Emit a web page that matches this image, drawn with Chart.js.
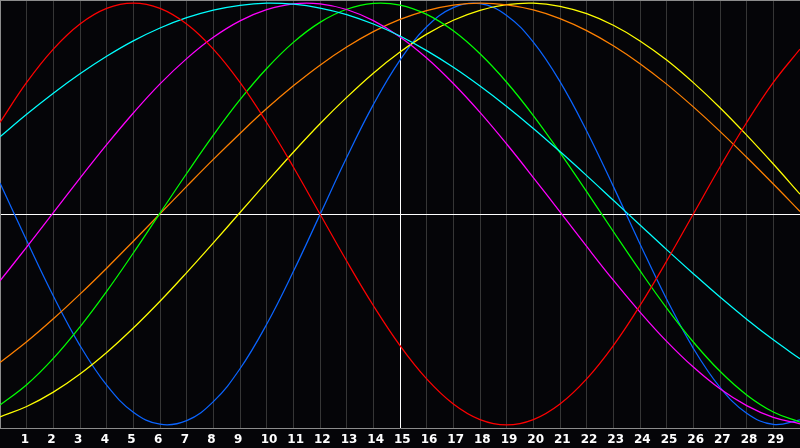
<!DOCTYPE html>
<html>
<head>
<meta charset="utf-8">
<script src="https://cdn.jsdelivr.net/npm/chart.js@4"></script>
<style>
  html, body { margin: 0; padding: 0; background: #050508; }
  #chart { display: block; background: #050508; }
</style>
</head>
<body>
<canvas id="chart" width="800" height="448"></canvas>
<script>
// x positions of the samples and the axis labels
const xs = [0, 1, 2, 3, 4, 5, 6, 7, 8, 9, 10, 11, 12, 13, 14, 15, 16, 17, 18, 19, 20, 21, 22, 23, 24, 25, 26, 27, 28, 29, 30];
const tickLabels = ["1", "2", "3", "4", "5", "6", "7", "8", "9", "10", "11", "12", "13", "14", "15", "16", "17", "18", "19", "20", "21", "22", "23", "24", "25", "26", "27", "28", "29"];

// curve values, one per x position
const redValues = [0.434, 0.624, 0.782, 0.901, 0.975, 1.0, 0.975, 0.901, 0.782, 0.624, 0.434, 0.223, 0.0, -0.223, -0.434, -0.624, -0.782, -0.901, -0.975, -1.0, -0.975, -0.901, -0.782, -0.624, -0.434, -0.223, 0.0, 0.223, 0.434, 0.624, 0.782];
const cyanValues = [0.366, 0.473, 0.573, 0.665, 0.748, 0.821, 0.882, 0.931, 0.967, 0.990, 1.0, 0.995, 0.977, 0.946, 0.901, 0.844, 0.775, 0.696, 0.607, 0.510, 0.406, 0.296, 0.182, 0.065, -0.052, -0.169, -0.283, -0.394, -0.499, -0.597, -0.687];
const magentaValues = [-0.317, -0.157, 0.007, 0.170, 0.329, 0.479, 0.617, 0.737, 0.838, 0.916, 0.969, 0.997, 0.997, 0.970, 0.917, 0.840, 0.740, 0.619, 0.482, 0.332, 0.173, 0.010, -0.154, -0.314, -0.465, -0.604, -0.726, -0.829, -0.909, -0.965, -0.995];
const greenValues = [-0.906, -0.810, -0.685, -0.535, -0.367, -0.185, 0.004, 0.192, 0.374, 0.542, 0.690, 0.814, 0.909, 0.971, 0.999, 0.991, 0.947, 0.869, 0.760, 0.625, 0.467, 0.291, 0.106, -0.083, -0.269, -0.446, -0.607, -0.746, -0.858, -0.939, -0.987];
const orangeValues = [-0.704, -0.606, -0.497, -0.380, -0.257, -0.129, 0.001, 0.131, 0.259, 0.382, 0.500, 0.608, 0.706, 0.792, 0.865, 0.923, 0.965, 0.991, 1.0, 0.992, 0.968, 0.927, 0.870, 0.798, 0.713, 0.616, 0.508, 0.392, 0.269, 0.142, 0.012];
const yellowValues = [-0.962, -0.913, -0.845, -0.759, -0.657, -0.541, -0.414, -0.278, -0.137, 0.007, 0.151, 0.293, 0.428, 0.553, 0.668, 0.768, 0.853, 0.919, 0.966, 0.993, 1.0, 0.985, 0.950, 0.895, 0.821, 0.730, 0.623, 0.504, 0.374, 0.237, 0.094];
const blueValues = [0.147, -0.126, -0.389, -0.624, -0.812, -0.940, -0.997, -0.980, -0.890, -0.734, -0.523, -0.273, -0.003, 0.268, 0.519, 0.730, 0.888, 0.979, 0.998, 0.942, 0.815, 0.628, 0.394, 0.131, -0.142, -0.404, -0.637, -0.822, -0.945, -0.998, -0.977];

const yMin = -1.015;
const yMax = 1.015;

function toPoints(values) {
  return values.map((y, i) => ({ x: xs[i], y: y }));
}

function curve(values, color) {
  return {
    data: toPoints(values),
    borderColor: color,
    borderWidth: 1.25,
    pointRadius: 0,
    tension: 0.4,
    fill: false,
  };
}

const ctx = document.getElementById("chart").getContext("2d");

new Chart(ctx, {
  type: "line",
  data: {
    datasets: [
      curve(redValues, "#ff0000"),
      curve(cyanValues, "#00ffff"),
      curve(magentaValues, "#ff00ff"),
      curve(greenValues, "#00ff00"),
      curve(orangeValues, "#ff8000"),
      curve(yellowValues, "#ffff00"),
      curve(blueValues, "#0a64ff"),
    ],
  },
  options: {
    responsive: false,
    animation: false,
    devicePixelRatio: 1,
    layout: { padding: 0 },
    plugins: {
      legend: { display: false },
      tooltip: { enabled: false },
    },
    scales: {
      x: {
        type: "linear",
        min: 0,
        max: 30,
        afterBuildTicks: (scale) => {
          scale.ticks = xs.map((v) => ({ value: v }));
        },
        afterFit: (scale) => {
          scale.height = 20;
          scale.paddingLeft = 0;
          scale.paddingRight = 0;
        },
        grid: {
          drawTicks: false,
          tickLength: 0,
          lineWidth: 1,
          color: (c) => {
            const v = c.tick ? c.tick.value : null;
            if (v === 15) return "#ffffff";
            if (v === 0 || v === 30) return "rgba(0,0,0,0)";
            return "#363636";
          },
        },
        border: { display: true, color: "#8c8c8c", width: 1 },
        ticks: {
          autoSkip: false,
          maxRotation: 0,
          minRotation: 0,
          align: "start",
          labelOffset: -6,
          padding: 5,
          color: "#ffffff",
          font: { family: "DejaVu Sans", size: 12, weight: "bold" },
          callback: (value) => {
            const label = tickLabels.find((t) => Number(t) === value);
            return label === undefined ? "" : label;
          },
        },
      },
      y: {
        type: "linear",
        min: yMin,
        max: yMax,
        afterBuildTicks: (scale) => {
          scale.ticks = [{ value: yMin }, { value: 0 }, { value: yMax }];
        },
        afterFit: (scale) => {
          scale.width = 0;
        },
        grid: {
          drawTicks: false,
          tickLength: 0,
          lineWidth: 1,
          color: (c) => {
            const v = c.tick ? c.tick.value : null;
            if (v === 0) return "#ffffff";
            if (v === yMax) return "#8c8c8c";
            return "rgba(0,0,0,0)";
          },
        },
        border: { display: true, color: "#8c8c8c", width: 1 },
        ticks: { display: false },
      },
    },
  },
});
</script>
</body>
</html>
